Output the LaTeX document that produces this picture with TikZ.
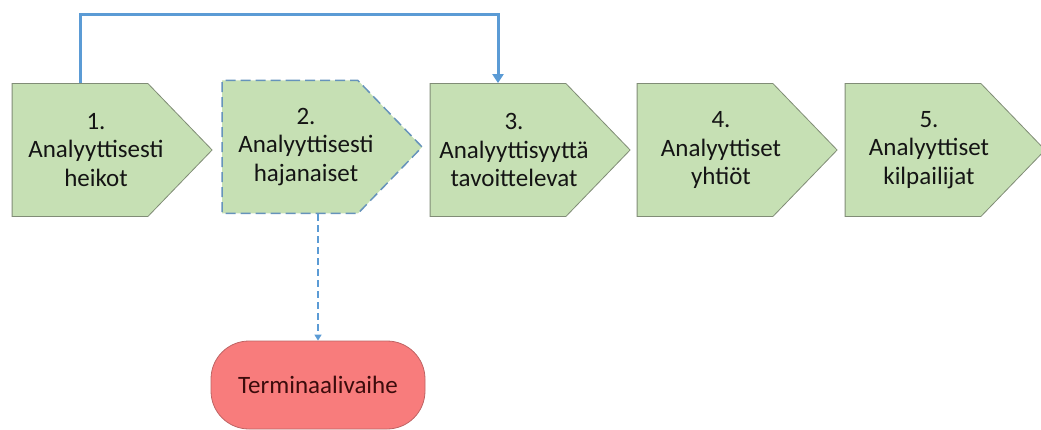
\documentclass[tikz,border=0pt]{standalone}
\usepackage{fontspec}
\setmainfont{Carlito}
\usetikzlibrary{shapes.symbols,arrows.meta}

\definecolor{stagefill}{RGB}{198,224,180}
\definecolor{stageline}{RGB}{128,140,118}
\definecolor{flowblue}{RGB}{91,155,213}
\definecolor{termfill}{RGB}{248,124,124}
\definecolor{termline}{RGB}{190,100,100}
\definecolor{termtext}{RGB}{60,12,12}

\begin{document}
\begin{tikzpicture}[x=1pt,y=-1pt,
	stagetext/.style={align=center,xshift=16pt,inner sep=0pt,
		font=\fontsize{25}{28.5}\selectfont,text=black!92},
	stage/.style={shape=signal,signal to=east,signal pointer angle=92,
		minimum width=200pt,minimum height=133pt,inner sep=0pt,
		fill=stagefill,draw=stageline,line width=0.8pt,
		label={[stagetext]center:{#1}}},
	loose/.style={stage={#1},draw=flowblue!70!gray,dashed,dash pattern=on 10pt off 5pt,line width=1.5pt},
	terminal/.style={shape=rectangle,rounded corners=38pt,minimum width=214pt,minimum height=88pt,
		fill=termfill,draw=termline,line width=0.8pt,font=\fontsize{25}{28}\selectfont,text=termtext}]

	\useasboundingbox (0,0) rectangle (1041,430);

	\node[stage={1.\\Analyyttisesti\\heikot}] (s1) at (80, 150) {};
	\node[loose={2.\\Analyyttisesti\\hajanaiset}] (s2) at (290, 147) {};
	\node[stage={3.\\Analyyttisyyttä\\tavoittelevat}] (s3) at (498, 150) {};
	\node[stage={4.\\Analyyttiset\\yhtiöt}] (s4) at (705, 150) {};
	\node[stage={5.\\Analyyttiset\\kilpailijat}] (s5) at (913, 150) {};
	\node[terminal] (t) at (318, 385) {Terminaalivaihe};

	\path[draw=flowblue, line width=3pt, -{Triangle[width=11pt,length=9pt]}]
		(s1.north) -- ++(0,-69) -| (s3.north);
	\path[draw=flowblue, line width=1.5pt, dashed, dash pattern=on 7pt off 4pt, -{Triangle[width=7pt,length=6pt]}]
		(t.north |- s2.south) -- (t.north);

\end{tikzpicture}
\end{document}
